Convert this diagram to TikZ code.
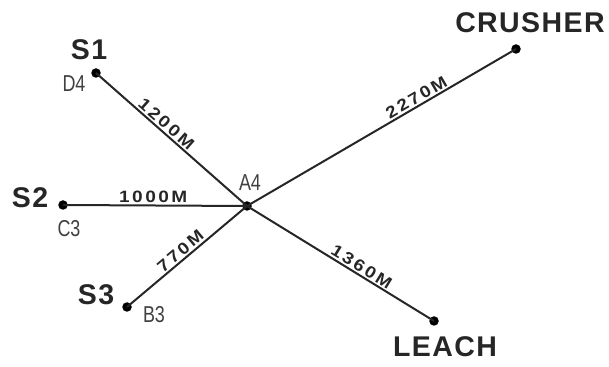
\documentclass[tikz,border=0pt]{standalone}
\usepackage{fontspec}
\setmainfont{Liberation Sans}
\newfontfamily\sitefont[LetterSpace=5]{Liberation Sans}
\newfontfamily\gridfont[FakeStretch=0.78]{Liberation Sans}
\newfontfamily\distfont[LetterSpace=15,FakeStretch=1.15]{Liberation Sans}

\begin{document}
\begin{tikzpicture}[x=1pt,y=1pt,
  dot/.style={circle,fill=black,inner sep=0pt,minimum size=9.5pt},
  site/.style={font=\sitefont\bfseries\fontsize{28.5}{30}\selectfont,text=black!85},
  grid/.style={font=\gridfont\fontsize{23}{25}\selectfont,text=black!75},
  dist/.style={font=\distfont\bfseries\fontsize{16.5}{18}\selectfont,sloped,above,inner sep=1.5pt},
  pipe/.style={line width=2pt,black!85}]
\useasboundingbox (0,0) rectangle (609,366);
% points of the network
\node[dot] (a4) at (247,160) {};
\node[dot] (s1) at (96,293) {};
\node[dot] (s2) at (63,161) {};
\node[dot] (s3) at (127,59) {};
\node[dot] (crusher) at (516,317) {};
\node[dot] (leach) at (434,45) {};
% pipes
\draw[pipe] (s1.center) -- node[dist,pos=0.43] {1200M} (a4.center);
\draw[pipe] (s2.center) -- node[dist,pos=0.49] {1000M} (a4.center);
\draw[pipe] (s3.center) -- node[dist,pos=0.49] {770M} (a4.center);
\draw[pipe] (a4.center) -- node[dist,pos=0.645] {2270M} (crusher.center);
\draw[pipe] (a4.center) -- node[dist,pos=0.59] {1360M} (leach.center);
% names
\node[site] (s1name) at (89,316) {S1};
\node[site] (s2name) at (30,168) {S2};
\node[site] (s3name) at (96,71) {S3};
\node[site] (crushername) at (530,343) {CRUSHER};
\node[site] (leachname) at (445,19) {LEACH};
% grid squares
\node[grid] (d4) at (74,282) {D4};
\node[grid] (c3) at (69,137) {C3};
\node[grid] (b3) at (154,51) {B3};
\node[grid] (a4name) at (250,183) {A4};
\end{tikzpicture}
\end{document}
